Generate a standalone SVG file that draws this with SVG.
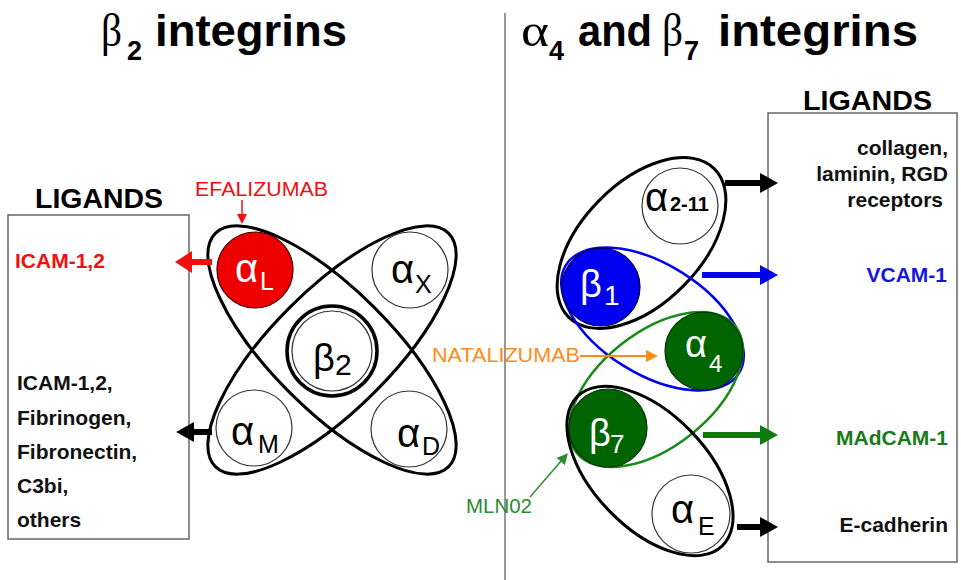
<svg xmlns="http://www.w3.org/2000/svg" width="961" height="580" viewBox="0 0 961 580">
<style>
.t{font-family:"Liberation Sans",Arial,sans-serif}
.b{font-family:"Liberation Sans",Arial,sans-serif;font-weight:bold}
.s{font-family:"Liberation Serif","Times New Roman",serif}
.lp{fill:none;stroke:#000;stroke-width:3}
.c{fill:#fff;stroke:#333;stroke-width:1.2}
.box{fill:#fff;stroke:#666;stroke-width:1.5}
.gl{font-family:"Liberation Sans",Arial,sans-serif;font-size:40px}
.sb{font-family:"Liberation Sans",Arial,sans-serif;font-size:25px}
.lg{font-family:"Liberation Sans",Arial,sans-serif;font-weight:bold;font-size:21px}
.dr{font-family:"Liberation Sans",Arial,sans-serif;font-size:20px}
</style>
<defs>
<marker id="hK" viewBox="0 0 18 20" markerWidth="18" markerHeight="20" refX="2" refY="10" orient="auto" markerUnits="userSpaceOnUse"><path d="M0,0L18,10L0,20z" fill="#000"/></marker>
<marker id="hR" viewBox="0 0 17 22" markerWidth="17" markerHeight="22" refX="2" refY="11" orient="auto" markerUnits="userSpaceOnUse"><path d="M0,0L17,11L0,22z" fill="#f01010"/></marker>
<marker id="hB" viewBox="0 0 18 20" markerWidth="18" markerHeight="20" refX="2" refY="10" orient="auto" markerUnits="userSpaceOnUse"><path d="M0,0L18,10L0,20z" fill="#0000f0"/></marker>
<marker id="hG" viewBox="0 0 18 20" markerWidth="18" markerHeight="20" refX="2" refY="10" orient="auto" markerUnits="userSpaceOnUse"><path d="M0,0L18,10L0,20z" fill="#107a10"/></marker>
<marker id="tR" viewBox="0 0 10 10" markerWidth="10" markerHeight="10" refX="2" refY="5" orient="auto" markerUnits="userSpaceOnUse"><path d="M0,0L10,5L0,10z" fill="#f01010"/></marker>
<marker id="tO" viewBox="0 0 12 12" markerWidth="12" markerHeight="12" refX="2" refY="6" orient="auto" markerUnits="userSpaceOnUse"><path d="M0,0L12,6L0,12z" fill="#ff8c1a"/></marker>
<marker id="tG" viewBox="0 0 11 11" markerWidth="11" markerHeight="11" refX="2" refY="5.5" orient="auto" markerUnits="userSpaceOnUse"><path d="M0,0L11,5.5L0,11z" fill="#2e8b2e"/></marker>
</defs>
<rect width="961" height="580" fill="#fff"/>

<g id="titles">
<text class="s" x="101" y="46" font-size="46" textLength="21" lengthAdjust="spacingAndGlyphs">β</text>
<text class="b" x="127" y="60" font-size="27">2</text>
<text class="b" x="155" y="46" font-size="44" textLength="192" lengthAdjust="spacingAndGlyphs">integrins</text>
<text class="s" x="521" y="46" font-size="46" textLength="28" lengthAdjust="spacingAndGlyphs">α</text>
<text class="b" x="549" y="60" font-size="27">4</text>
<text class="b" x="578" y="46" font-size="44" textLength="74" lengthAdjust="spacingAndGlyphs">and</text>
<text class="s" x="662" y="46" font-size="46" textLength="21" lengthAdjust="spacingAndGlyphs">β</text>
<text class="b" x="684" y="60" font-size="27">7</text>
<text class="b" x="718" y="46" font-size="44" textLength="200" lengthAdjust="spacingAndGlyphs">integrins</text>
<line x1="505" y1="13" x2="505" y2="580" stroke="#555" stroke-width="1.2"/>
</g>

<g id="ligands-left">
<rect class="box" x="8" y="215" width="181" height="324"/>
<text class="b" x="35" y="208" font-size="28" textLength="128" lengthAdjust="spacingAndGlyphs">LIGANDS</text>
<text class="lg" x="15" y="268" fill="#f01010">ICAM-1,2</text>
<text class="lg" x="17" y="390" fill="#111">ICAM-1,2,</text>
<text class="lg" x="17" y="425" fill="#111">Fibrinogen,</text>
<text class="lg" x="17" y="459" fill="#111">Fibronectin,</text>
<text class="lg" x="17" y="493" fill="#111">C3bi,</text>
<text class="lg" x="17" y="527" fill="#111">others</text>
</g>

<g id="ligands-right">
<rect class="box" x="768" y="113" width="189" height="449"/>
<text class="b" x="803" y="110" font-size="28" textLength="129" lengthAdjust="spacingAndGlyphs">LIGANDS</text>
<g text-anchor="end">
<text class="lg" x="948" y="155" fill="#111">collagen,</text>
<text class="lg" x="948" y="181" fill="#111">laminin, RGD</text>
<text class="lg" x="943" y="207" fill="#111">receptors</text>
<text class="lg" x="947" y="282" fill="#1515e0">VCAM-1</text>
<text class="lg" x="948" y="445" fill="#1a7a1a">MAdCAM-1</text>
<text class="lg" x="948" y="532" fill="#111">E-cadherin</text>
</g>
</g>

<g id="beta2-loops">
<ellipse class="lp" cx="332" cy="350" rx="165" ry="60" transform="rotate(45 332 350)"/>
<ellipse class="lp" cx="332" cy="350" rx="165" ry="60" transform="rotate(-45 332 350)"/>
</g>

<g id="alphaL">
<circle cx="255" cy="270" r="38" fill="#ee0000" stroke="#400" stroke-width="1.2"/>
<text class="gl" x="235" y="282" fill="#fff">α</text>
<text class="sb" x="260" y="290" fill="#fff">L</text>
</g>
<g id="alphaX">
<circle class="c" cx="410" cy="270" r="38"/>
<text class="gl" x="391" y="283" fill="#000">α</text>
<text class="sb" x="415" y="293" fill="#000">X</text>
</g>
<g id="alphaM">
<circle class="c" cx="254" cy="428" r="38"/>
<text class="gl" x="231" y="445" fill="#000">α</text>
<text class="sb" x="258" y="453" fill="#000">M</text>
</g>
<g id="alphaD">
<circle class="c" cx="409" cy="429" r="38"/>
<text class="gl" x="397" y="447" fill="#000">α</text>
<text class="sb" x="422" y="455" fill="#000">D</text>
</g>
<g id="beta2">
<circle cx="332" cy="351" r="45" fill="#fff" stroke="#000" stroke-width="3.5"/>
<circle cx="332" cy="351" r="40" fill="none" stroke="#333" stroke-width="1.2"/>
<text class="t" x="313" y="371" font-size="38" fill="#000">β</text>
<text class="t" x="335" y="375" font-size="30" fill="#000">2</text>
</g>

<g id="right-loops">
<ellipse class="lp" cx="641.5" cy="243" rx="104" ry="60" transform="rotate(-45.7 641.5 243)"/>
<ellipse fill="none" stroke="#0000f0" stroke-width="2.5" cx="652.5" cy="319" rx="102" ry="55" transform="rotate(32 652.5 319)"/>
<ellipse fill="none" stroke="#1a8a1a" stroke-width="2.5" cx="656" cy="389.5" rx="101.5" ry="57" transform="rotate(-38.7 656 389.5)"/>
<ellipse class="lp" cx="650" cy="471" rx="104" ry="57" transform="rotate(46 650 471)"/>
</g>

<g id="alpha2-11">
<circle class="c" cx="680" cy="206" r="38"/>
<text class="gl" x="645" y="211" fill="#000">α</text>
<text class="b" x="670" y="211" font-size="20" fill="#000">2-11</text>
</g>
<g id="beta1">
<circle cx="601" cy="287" r="39" fill="#0000f0" stroke="#000030" stroke-width="1.2"/>
<text class="t" x="580" y="297" font-size="38" fill="#fff">β</text>
<text class="t" x="604" y="305" font-size="28" fill="#fff">1</text>
</g>
<g id="alpha4">
<circle cx="704" cy="351" r="39" fill="#006400" stroke="#003000" stroke-width="1.2"/>
<text class="t" x="685" y="357" font-size="38" fill="#fff">α</text>
<text class="t" x="709" y="372" font-size="24" fill="#fff">4</text>
</g>
<g id="beta7">
<circle cx="608" cy="428" r="39" fill="#006400" stroke="#003000" stroke-width="1.2"/>
<text class="t" x="589" y="446" font-size="38" fill="#fff">β</text>
<text class="t" x="610" y="453" font-size="26" fill="#fff">7</text>
</g>
<g id="alphaE">
<circle class="c" cx="691" cy="514" r="39"/>
<text class="gl" x="671" y="523" fill="#000">α</text>
<text class="sb" x="698" y="535" fill="#000">E</text>
</g>

<g id="drugs">
<text class="dr" x="195" y="196" fill="#f01010" textLength="133" lengthAdjust="spacingAndGlyphs">EFALIZUMAB</text>
<text class="dr" x="432" y="362" fill="#ff8c1a" textLength="148" lengthAdjust="spacingAndGlyphs">NATALIZUMAB</text>
<text class="dr" x="466" y="513" fill="#2e8b2e" textLength="66" lengthAdjust="spacingAndGlyphs">MLN02</text>
</g>

<g id="connectors">
<line x1="212" y1="262" x2="190" y2="262" stroke="#f01010" stroke-width="6" marker-end="url(#hR)"/>
<line x1="212" y1="432" x2="192" y2="432" stroke="#000" stroke-width="6" marker-end="url(#hK)"/>
<line x1="725" y1="183" x2="762" y2="183" stroke="#000" stroke-width="6" marker-end="url(#hK)"/>
<line x1="702" y1="275" x2="762" y2="275" stroke="#0000f0" stroke-width="6" marker-end="url(#hB)"/>
<line x1="703" y1="435" x2="762" y2="435" stroke="#107a10" stroke-width="6" marker-end="url(#hG)"/>
<line x1="737" y1="527" x2="762" y2="527" stroke="#000" stroke-width="6" marker-end="url(#hK)"/>
<line x1="242" y1="200" x2="242" y2="216" stroke="#f01010" stroke-width="1.5" marker-end="url(#tR)"/>
<line x1="580" y1="356" x2="648" y2="356" stroke="#ff8c1a" stroke-width="2" marker-end="url(#tO)"/>
<line x1="530" y1="497" x2="562" y2="460" stroke="#2e8b2e" stroke-width="1.5" marker-end="url(#tG)"/>
</g>
</svg>
